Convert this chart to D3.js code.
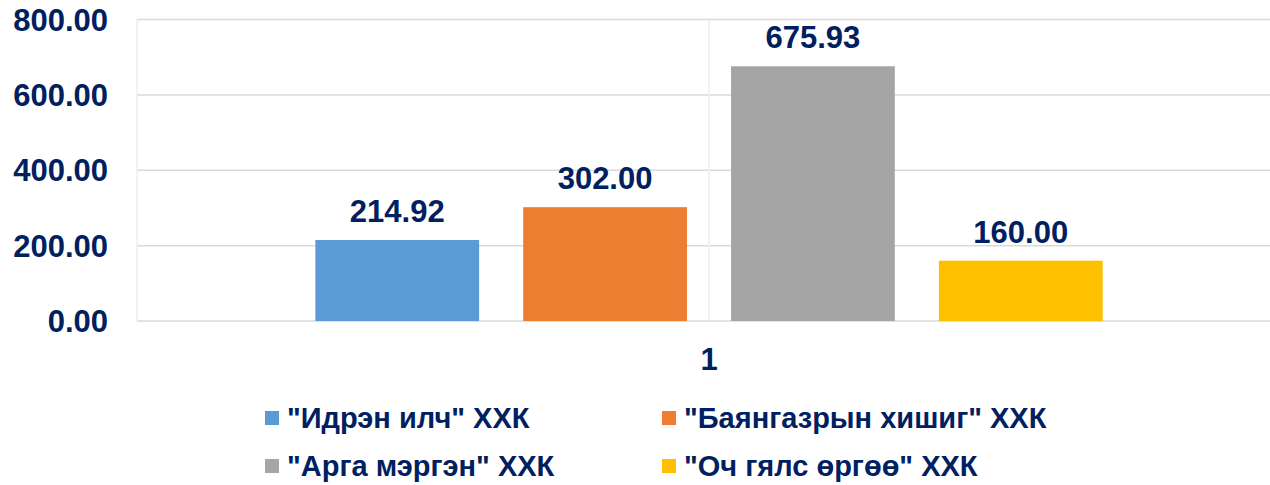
<!DOCTYPE html>
<html>
<head>
<meta charset="utf-8">
<script src="https://cdn.jsdelivr.net/npm/d3@7"></script>
<style>
  html, body { margin: 0; padding: 0; background: #fff; }
  svg { display: block; }
  text { font-family: "Liberation Sans", Arial, sans-serif; font-weight: bold; fill: #002060; }
</style>
</head>
<body>
<svg id="chart" width="1270" height="485"></svg>
<script>
const categories = ["1"];
const seriesNames = ["\"Идрэн илч\" ХХК", "\"Баянгазрын хишиг\" ХХК", "\"Арга мэргэн\" ХХК", "\"Оч гялс өргөө\" ХХК"];
const seriesValues = [214.92, 302.00, 675.93, 160.00];
const seriesColors = ["#5B9BD5", "#ED7D31", "#A5A5A5", "#FFC000"];
const yTicks = [0, 200, 400, 600, 800];

const svg = d3.select("#chart");
const plot = { left: 137, right: 1281, top: 19.5, bottom: 321 };

const y = d3.scaleLinear().domain([0, 800]).range([plot.bottom, plot.top]);
const x0 = d3.scaleBand().domain(categories).range([plot.left, plot.right]).paddingInner(0).paddingOuter(0.188);
const x1 = d3.scaleBand().domain(seriesNames).range([0, x0.bandwidth()]).paddingInner(0.212).paddingOuter(0.106);

// horizontal gridlines
svg.append("g").selectAll("line").data(yTicks).join("line")
  .attr("x1", plot.left).attr("x2", 1270)
  .attr("y1", d => y(d)).attr("y2", d => y(d))
  .attr("stroke", "#D9D9D9").attr("stroke-width", 1.5);

// vertical gridlines (plot edge and category center)
const vLines = [plot.left, x0(categories[0]) + x0.bandwidth() / 2];
svg.append("g").selectAll("line").data(vLines).join("line")
  .attr("x1", d => d).attr("x2", d => d)
  .attr("y1", plot.top).attr("y2", plot.bottom)
  .attr("stroke", "#EEEEEE").attr("stroke-width", 1.5);

// y tick labels
svg.append("g").selectAll("text").data(yTicks).join("text")
  .attr("x", 108).attr("y", d => y(d) + 11)
  .attr("text-anchor", "end")
  .style("font-size", "31px")
  .text(d => d3.format(".2f")(d));

// bars
const data = seriesNames.map((s, i) => ({ name: s, value: seriesValues[i], color: seriesColors[i] }));
const g = svg.append("g").attr("transform", `translate(${x0(categories[0])},0)`);
g.selectAll("rect").data(data).join("rect")
  .attr("x", d => x1(d.name))
  .attr("width", x1.bandwidth())
  .attr("y", d => y(d.value))
  .attr("height", d => y(0) - y(d.value))
  .attr("fill", d => d.color);

g.selectAll("text.lbl").data(data).join("text")
  .attr("class", "lbl")
  .attr("x", d => x1(d.name) + x1.bandwidth() / 2)
  .attr("y", d => y(d.value) - 18)
  .attr("text-anchor", "middle")
  .style("font-size", "31px")
  .text(d => d3.format(".2f")(d.value));

// category label
svg.append("text")
  .attr("x", x0(categories[0]) + x0.bandwidth() / 2)
  .attr("y", 370)
  .attr("text-anchor", "middle")
  .style("font-size", "31px")
  .text(categories[0]);

// legend
const legendPos = [
  { mx: 265, ty: 428 },
  { mx: 662, ty: 428 },
  { mx: 265, ty: 476 },
  { mx: 662, ty: 476 }
];
const lg = svg.append("g");
data.forEach((d, i) => {
  const p = legendPos[i];
  lg.append("rect").attr("x", p.mx).attr("y", p.ty - 17).attr("width", 14).attr("height", 14).attr("fill", d.color);
  lg.append("text").attr("x", p.mx + 22).attr("y", p.ty).style("font-size", "29px").text(d.name);
});
</script>
</body>
</html>
